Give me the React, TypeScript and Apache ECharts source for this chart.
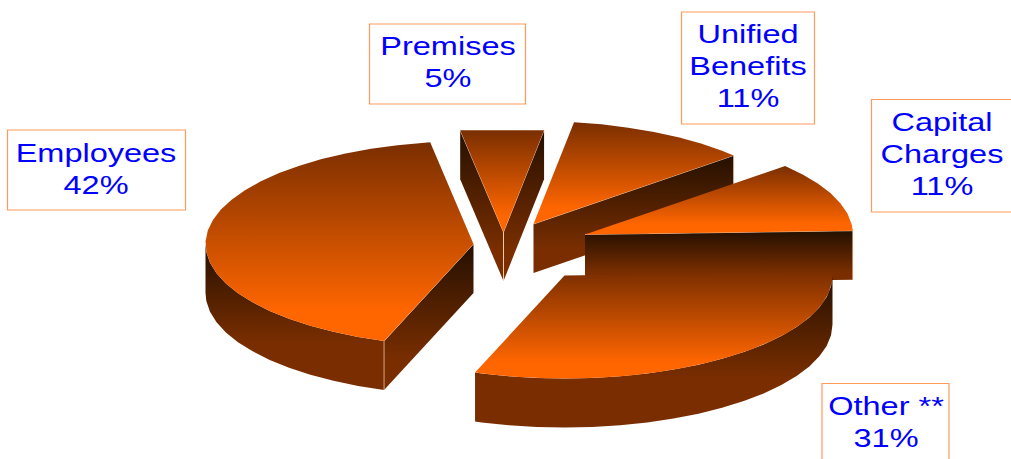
import React, { useEffect, useRef } from "react";
import * as echarts from "echarts";

// Slices in clockwise order, beginning with the one at twelve o'clock.
const categories = ["Premises", "Unified\nBenefits", "Capital\nCharges", "Other **", "Employees"];
const shares = [5, 11, 11, 31, 42];

// Where each exploded slice's tip sits on the page.
const sliceTips = [
  [503.5, 232],
  [533.5, 224],
  [585, 234.5],
  [564.5, 275.5],
  [473.5, 244],
];
// Label boxes: left, top, right, bottom, and the centre of the text.
const labelBoxes = [
  [369.5, 24, 525.5, 104, 448, 62],
  [681.5, 12, 814.5, 124, 748, 66],
  [871.5, 99.5, 1013, 212, 942, 154],
  [822, 383.5, 949, 470, 886, 422],
  [7.5, 130, 185.5, 210, 96, 168.5],
];

const START_ANGLE = -9.3;
const RX = 268;
const RY = 103;
const DEPTH = 49;
const ARC_STEP = 6;

const topFill = () =>
  new echarts.graphic.LinearGradient(0, 0, 0, 1, [
    { offset: 0, color: "#7a2e00" },
    { offset: 0.85, color: "#ff6600" },
    { offset: 1, color: "#ff6600" },
  ]);
const wallFill = (solidFrom: number) =>
  new echarts.graphic.LinearGradient(0, 0, 0, 1, [
    { offset: 0, color: "#241000" },
    { offset: solidFrom, color: "#7a2e00" },
    { offset: 1, color: "#7a2e00" },
  ]);

const rad = (deg: number) => (deg * Math.PI) / 180;
// Point on the rim; angles run clockwise from the top of the ellipse.
const rim = (tip: number[], deg: number) => [
  tip[0] + RX * Math.sin(rad(deg)),
  tip[1] - RY * Math.cos(rad(deg)),
];
// The rim is faceted; a narrow slice gets a single straight chord.
const arcPoints = (tip: number[], from: number, to: number) => {
  const step = to - from <= 20 ? to - from : ARC_STEP;
  const pts: number[][] = [];
  for (let a = from; a < to - 0.001; a += step) pts.push(rim(tip, a));
  pts.push(rim(tip, to));
  return pts;
};
const drop = (p: number[]) => [p[0], p[1] + DEPTH];

// A radial face shows when the slice's own top lies above its edge on screen.
const faceVisible = (tip: number[], edgeAngle: number, midAngle: number) => {
  const e = rim(tip, edgeAngle);
  const m = rim(tip, midAngle);
  const dx = e[0] - tip[0];
  const dy = e[1] - tip[1];
  return dx * (dx * (m[1] - tip[1]) - dy * (m[0] - tip[0])) < 0;
};

const renderSlice = (params: any, api: any) => {
  const i = params.dataIndex;
  const tip = sliceTips[i];
  const before = shares.slice(0, i).reduce((s, v) => s + v, 0);
  const from = START_ANGLE + before * 3.6;
  const to = from + api.value(0) * 3.6;
  const mid = (from + to) / 2;
  const children: any[] = [];

  // Rim wall on the near half of the ellipse.
  const wallFrom = Math.max(from, 90);
  const wallTo = Math.min(to, 270);
  if (wallTo > wallFrom) {
    const arc = arcPoints(tip, wallFrom, wallTo);
    children.push({
      type: "polygon",
      shape: { points: [...arc, ...arc.map(drop).reverse()] },
      style: { fill: wallFill(0.68) },
    });
  }

  // Cut faces, with their pale highlight lines.
  const visible = [from, to].filter((a) => faceVisible(tip, a, mid));
  visible.forEach((a) => {
    const p = rim(tip, a);
    children.push({
      type: "polygon",
      shape: { points: [tip, p, drop(p), drop(tip)] },
      style: { fill: wallFill(0.8) },
    });
  });
  visible.forEach((a) => {
    const p = rim(tip, a);
    const corner = visible.length > 1 ? tip : p;
    children.push({
      type: "polyline",
      shape: { points: [tip, p] },
      style: { fill: "none", stroke: "rgba(255,225,200,0.7)", lineWidth: 1 },
    });
    children.push({
      type: "line",
      shape: { x1: corner[0], y1: corner[1], x2: corner[0], y2: corner[1] + DEPTH },
      style: { stroke: "rgba(255,215,185,0.65)", lineWidth: 1 },
    });
  });

  // Top surface.
  children.push({
    type: "polygon",
    shape: { points: [tip, ...arcPoints(tip, from, to)] },
    style: { fill: topFill() },
  });

  return { type: "group", children };
};

export default function App() {
  const ref = useRef<HTMLDivElement>(null);

  useEffect(() => {
    const chart = echarts.init(ref.current!, undefined, { renderer: "svg" });
    chart.setOption({
      animation: false,
      backgroundColor: "#ffffff",
      series: [
        {
          type: "custom",
          coordinateSystem: "none",
          silent: true,
          clip: false,
          renderItem: renderSlice,
          data: shares.map((v) => [v]),
        },
      ],
      graphic: categories.flatMap((name, i) => {
        const [x0, y0, x1, y1, cx, cy] = labelBoxes[i];
        return [
          {
            type: "rect",
            silent: true,
            z: 10,
            shape: { x: x0, y: y0, width: x1 - x0, height: y1 - y0 },
            style: { fill: "#ffffff", stroke: "#ff9a5c", lineWidth: 1.2 },
          },
          {
            type: "text",
            silent: true,
            z: 11,
            x: cx,
            y: cy,
            scaleX: 1.25,
            style: {
              text: `${name}\n${shares[i]}%`,
              fill: "#0000ff",
              font: "26px 'Liberation Sans', Arial, sans-serif",
              lineHeight: 32,
              align: "center",
              verticalAlign: "middle",
            },
          },
        ];
      }),
    });
    return () => chart.dispose();
  }, []);

  return (
    <div
      ref={ref}
      style={{ position: "fixed", left: 0, top: 0, width: 1011, height: 459, background: "#fff" }}
    />
  );
}
